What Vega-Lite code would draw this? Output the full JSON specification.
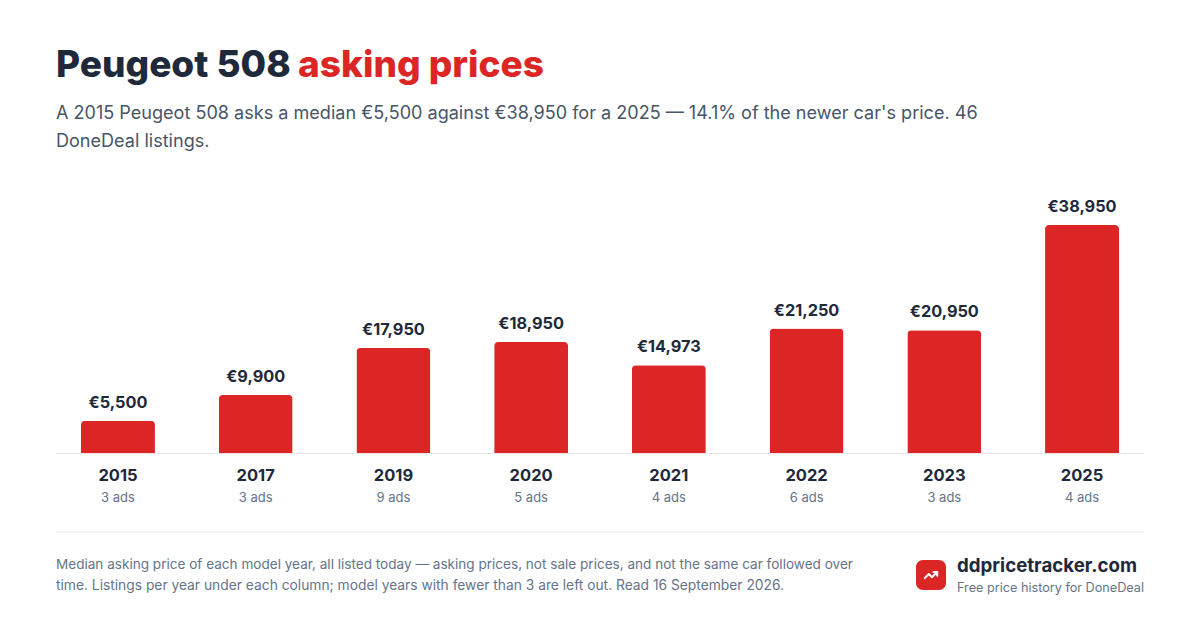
{
  "$schema": "https://vega.github.io/schema/vega-lite/v6.json",
  "width": 1088,
  "height": 263,
  "autosize": "none",
  "padding": {"left": 56, "right": 56, "top": 190, "bottom": 177},
  "background": "white",
  "title": {
    "text": "Peugeot 508",
    "subtitle": ["A 2015 Peugeot 508 asks a median €5,500 against €38,950 for a 2025 — 14.1% of the newer car's price. 46", "DoneDeal listings."],
    "anchor": "start",
    "frame": "group",
    "offset": -105,
    "font": "Inter",
    "fontSize": 37,
    "fontWeight": 800,
    "color": "#1e293b",
    "subtitleFont": "Inter",
    "subtitleFontSize": 18.07,
    "subtitleColor": "#475569",
    "subtitleLineHeight": 28,
    "subtitlePadding": 20
  },
  "datasets": {
    "years": [
      {"year": "2015", "price": 5500, "ads": "3 ads", "label": "€5,500"},
      {"year": "2017", "price": 9900, "ads": "3 ads", "label": "€9,900"},
      {"year": "2019", "price": 17950, "ads": "9 ads", "label": "€17,950"},
      {"year": "2020", "price": 18950, "ads": "5 ads", "label": "€18,950"},
      {"year": "2021", "price": 14973, "ads": "4 ads", "label": "€14,973"},
      {"year": "2022", "price": 21250, "ads": "6 ads", "label": "€21,250"},
      {"year": "2023", "price": 20950, "ads": "3 ads", "label": "€20,950"},
      {"year": "2025", "price": 38950, "ads": "4 ads", "label": "€38,950"}
    ]
  },
  "config": {"view": {"stroke": null}},
  "layer": [
    {
      "data": {"name": "years"},
      "mark": {"type": "bar", "color": "#dc2626", "cornerRadiusTopLeft": 4, "cornerRadiusTopRight": 4},
      "encoding": {
        "x": {
          "field": "year",
          "type": "ordinal",
          "title": null,
          "scale": {"paddingInner": 0.463, "paddingOuter": 0.1815},
          "axis": {
            "labelAngle": 0,
            "labelFont": "Inter",
            "labelFontSize": 16.5,
            "labelFontWeight": 700,
            "labelColor": "#1e293b",
            "labelPadding": 14,
            "ticks": false,
            "domainColor": "#e5e7eb",
            "domainWidth": 1
          }
        },
        "y": {
          "field": "price",
          "type": "quantitative",
          "scale": {"domain": [0, 44929], "nice": false},
          "axis": null
        }
      }
    },
    {
      "data": {"name": "years"},
      "mark": {"type": "text", "font": "Inter", "fontSize": 16.3, "fontWeight": 700, "color": "#1e293b", "baseline": "alphabetic", "dy": -13},
      "encoding": {
        "x": {"field": "year", "type": "ordinal"},
        "y": {"field": "price", "type": "quantitative", "scale": {"domain": [0, 44929], "nice": false}},
        "text": {"field": "label"}
      }
    },
    {
      "data": {"name": "years"},
      "mark": {"type": "text", "font": "Inter", "fontSize": 13, "color": "#64748b", "baseline": "alphabetic", "dy": 49},
      "encoding": {
        "x": {"field": "year", "type": "ordinal"},
        "y": {"datum": 0, "type": "quantitative", "scale": {"domain": [0, 44929], "nice": false}},
        "text": {"field": "ads"}
      }
    },
    {
      "data": {"values": [{"part": "asking prices"}]},
      "mark": {"type": "text", "font": "Inter", "fontSize": 37, "fontWeight": 800, "color": "#dc2626", "align": "left", "baseline": "alphabetic", "x": 242, "y": -113},
      "encoding": {"text": {"field": "part"}}
    },
    {
      "data": {"values": [{"n": 1}]},
      "mark": {"type": "rule", "color": "#e5e7eb", "strokeWidth": 1},
      "encoding": {"x": {"value": 0}, "x2": {"value": 1088}, "y": {"value": 342}}
    },
    {
      "data": {"values": [{"note": "Median asking price of each model year, all listed today — asking prices, not sale prices, and not the same car followed over"}]},
      "mark": {"type": "text", "font": "Inter", "fontSize": 13.57, "color": "#64748b", "align": "left", "baseline": "alphabetic", "x": 0, "y": 379},
      "encoding": {"text": {"field": "note"}}
    },
    {
      "data": {"values": [{"note": "time. Listings per year under each column; model years with fewer than 3 are left out. Read 16 September 2026."}]},
      "mark": {"type": "text", "font": "Inter", "fontSize": 13.8, "color": "#64748b", "align": "left", "baseline": "alphabetic", "x": 0, "y": 400},
      "encoding": {"text": {"field": "note"}}
    },
    {
      "data": {"values": [{"n": 1}]},
      "mark": {"type": "rect", "color": "#dc2626", "cornerRadius": 7, "x": 860, "x2": 890, "y": 370, "y2": 400},
      "encoding": {}
    },
    {
      "data": {"values": [{"n": 1}]},
      "mark": {
        "type": "point",
        "shape": "M0.5 -0.25 L0.075 0.175 L-0.175 -0.075 L-0.5 0.25 M0.2 -0.25 L0.5 -0.25 L0.5 0.05",
        "size": 625,
        "filled": false,
        "fill": null,
        "stroke": "white",
        "strokeWidth": 2,
        "strokeCap": "round",
        "strokeJoin": "round",
        "opacity": 1,
        "x": 875,
        "y": 385
      },
      "encoding": {}
    },
    {
      "data": {"values": [{"site": "ddpricetracker.com"}]},
      "mark": {"type": "text", "font": "Inter", "fontSize": 18.7, "fontWeight": 700, "color": "#1e293b", "align": "left", "baseline": "alphabetic", "x": 901, "y": 382},
      "encoding": {"text": {"field": "site"}}
    },
    {
      "data": {"values": [{"tag": "Free price history for DoneDeal"}]},
      "mark": {"type": "text", "font": "Inter", "fontSize": 12.66, "color": "#64748b", "align": "left", "baseline": "alphabetic", "x": 901, "y": 402},
      "encoding": {"text": {"field": "tag"}}
    }
  ]
}
